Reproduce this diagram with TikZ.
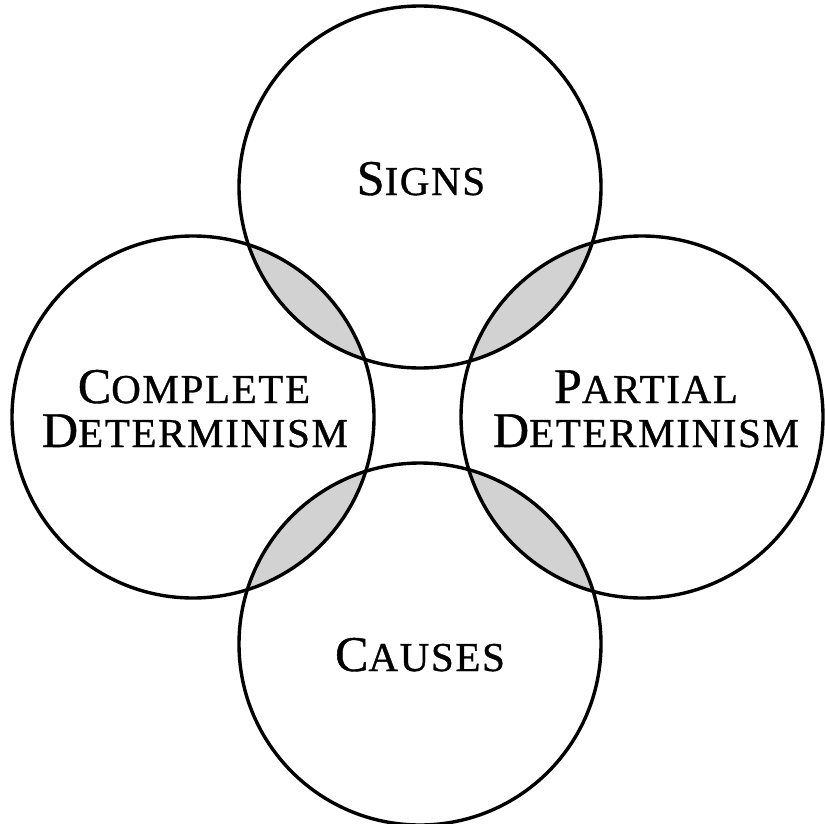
\documentclass[tikz,border=0pt]{standalone}
\usepackage{fontspec}
\newfontfamily\labfont[LetterSpace=4,FakeBold=0.8]{Liberation Serif}
\newcommand\scword[2]{{\fontsize{50}{54}\selectfont #1}{\fontsize{41}{44}\selectfont #2}}
\begin{document}
\begin{tikzpicture}[x=1pt,y=-1pt,
  ring/.style={circle,draw=black,line width=3.4pt,minimum size=362pt,inner sep=0pt},
  lens/.style={fill=gray!35},
  lab/.style={font=\labfont,text=black,inner sep=0pt,anchor=base,align=center}]
\useasboundingbox (0,0) rectangle (824,824);
\coordinate (cT) at (420,187);
\coordinate (cL) at (193,417);
\coordinate (cR) at (642,417);
\coordinate (cB) at (420,644);
% lens fills
\begin{scope}\clip (cT) circle (181pt); \fill[lens] (cL) circle (181pt); \end{scope}
\begin{scope}\clip (cT) circle (181pt); \fill[lens] (cR) circle (181pt); \end{scope}
\begin{scope}\clip (cB) circle (181pt); \fill[lens] (cL) circle (181pt); \end{scope}
\begin{scope}\clip (cB) circle (181pt); \fill[lens] (cR) circle (181pt); \end{scope}
% circles
\node[ring] (signs) at (cT) {};
\node[ring] (compl) at (cL) {};
\node[ring] (part) at (cR) {};
\node[ring] (causes) at (cB) {};
% labels
\node[lab] (tS) at (421,195) {\scword{S}{IGNS}};
\node[lab] (tC1) at (194,403) {\scword{C}{OMPLETE}};
\node[lab] (tC2) at (195,447) {\scword{D}{ETERMINISM}};
\node[lab] (tP1) at (646,403) {\scword{P}{ARTIAL}};
\node[lab] (tP2) at (646,447) {\scword{D}{ETERMINISM}};
\node[lab] (tB) at (420,671) {\scword{C}{AUSES}};
\end{tikzpicture}
\end{document}
